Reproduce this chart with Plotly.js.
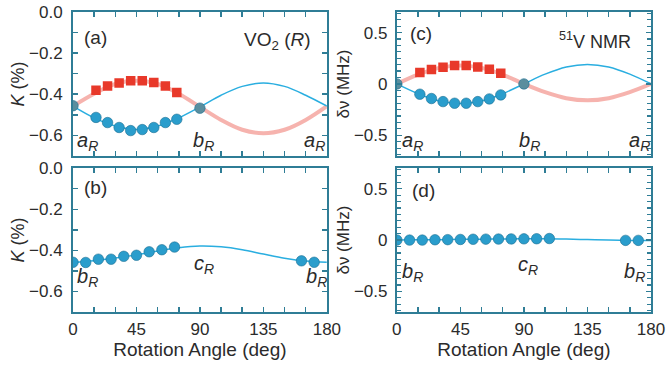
<!DOCTYPE html>
<html>
<head>
<meta charset="utf-8">
<script src="https://cdn.plot.ly/plotly-3.0.1.min.js"></script>
<style>html,body{margin:0;padding:0;background:#fff;}#chart{width:667px;height:366px;}</style>
</head>
<body>
<div id="chart"></div>
<script>
// ---------- data ----------
// measured angles for panels (a) and (c)
const angRed = [16.3, 24.5, 32.7, 40.9, 49.1, 57.3, 65.5, 73.6];
const angBlue = [0, 16.3, 24.5, 32.7, 40.9, 49.1, 57.3, 65.5, 73.6, 90];
// panel (a): Knight shift K (%)
const kRedA = [-0.381, -0.360, -0.345, -0.335, -0.335, -0.343, -0.360, -0.392];
const kBlueA = [-0.456, -0.513, -0.538, -0.562, -0.577, -0.572, -0.562, -0.538, -0.522, -0.468];
// fitted curves, read every 15 deg
const fitAng = [0, 15, 30, 45, 60, 75, 90, 105, 120, 135, 150, 165, 180];
const fitRedA = [-0.458, -0.398, -0.350, -0.335, -0.350, -0.398, -0.462, -0.525, -0.573, -0.590, -0.573, -0.525, -0.458];
const fitBlueA = [-0.458, -0.515, -0.555, -0.572, -0.555, -0.515, -0.462, -0.405, -0.362, -0.345, -0.362, -0.405, -0.458];
// panel (b)
const angB = [0, 9, 18, 27, 36, 45, 54, 63, 72, 162, 171];
const kB = [-0.458, -0.459, -0.443, -0.443, -0.429, -0.424, -0.407, -0.397, -0.384, -0.451, -0.458];
const fitB = [-0.458, -0.450, -0.437, -0.422, -0.403, -0.387, -0.379, -0.383, -0.397, -0.418, -0.438, -0.452, -0.458];
// panel (c): NMR shift (MHz)
const nuRedC = [0.110, 0.140, 0.162, 0.180, 0.180, 0.165, 0.143, 0.104];
const nuBlueC = [0.0, -0.100, -0.142, -0.172, -0.188, -0.188, -0.172, -0.146, -0.107, 0.0];
const fitRedC = [0.0, 0.090, 0.156, 0.180, 0.156, 0.090, 0.0, -0.080, -0.139, -0.160, -0.139, -0.080, 0.0];
const fitBlueC = [0.0, -0.095, -0.165, -0.190, -0.165, -0.095, 0.0, 0.095, 0.165, 0.190, 0.165, 0.095, 0.0];
// panel (d)
const angD = [0, 9, 18, 27, 36, 45, 54, 63, 72, 81, 90, 99, 108, 162, 171];
const nuD = [0.0, 0.0, 0.0, 0.003, 0.004, 0.006, 0.008, 0.009, 0.010, 0.011, 0.012, 0.013, 0.015, -0.003, -0.003];
const fitD = [0.0, 0.002, 0.004, 0.007, 0.009, 0.011, 0.012, 0.013, 0.010, 0.005, 0.0, -0.003, -0.003];
// tick labels
const xTicks = [0, 45, 90, 135, 180];

// ---------- styles ----------
const AX = '#2f7d96';
const TXT = '#2b2b2b';
const RED = '#e8392a';
const REDFIT = 'rgba(244,160,154,0.8)';
const BLUE = '#2a9dcc';
const BLUEFIT = '#2aaee0';
const FONT = 'Liberation Sans, Arial, sans-serif';

function blueColors(a){ return a.map(v => (v === 0 || v === 90) ? '#5a8e9e' : BLUE); }

const traces = [];
function fitTrace(x, y, col, w, xa, ya){
  traces.push({x, y, xaxis: xa, yaxis: ya, type: 'scatter', mode: 'lines',
    line: {color: col, width: w, shape: 'spline', smoothing: 1}, hoverinfo: 'skip', showlegend: false});
}
function redPts(x, y, xa, ya){
  traces.push({x, y, xaxis: xa, yaxis: ya, type: 'scatter', mode: 'markers',
    marker: {symbol: 'square', size: 9.5, color: RED, line: {width: 0}}, showlegend: false});
}
function bluePts(x, y, xa, ya, cols){
  traces.push({x, y, xaxis: xa, yaxis: ya, type: 'scatter', mode: 'markers',
    marker: {symbol: 'circle', size: 10.5, color: cols || BLUE, line: {width: 0.6, color: '#1d6f92'}}, showlegend: false});
}

// (a)
fitTrace(fitAng, fitRedA, REDFIT, 4, 'x', 'y');
fitTrace(fitAng, fitBlueA, BLUEFIT, 1.5, 'x', 'y');
redPts(angRed, kRedA, 'x', 'y');
bluePts(angBlue, kBlueA, 'x', 'y', blueColors(angBlue));
// (b)
fitTrace(fitAng, fitB, BLUEFIT, 1.5, 'x2', 'y2');
bluePts(angB, kB, 'x2', 'y2');
// (c)
fitTrace(fitAng, fitRedC, REDFIT, 4, 'x3', 'y3');
fitTrace(fitAng, fitBlueC, BLUEFIT, 1.5, 'x3', 'y3');
redPts(angRed, nuRedC, 'x3', 'y3');
bluePts(angBlue, nuBlueC, 'x3', 'y3', blueColors(angBlue));
// (d)
fitTrace(fitAng, fitD, BLUEFIT, 1.5, 'x4', 'y4');
bluePts(angD, nuD, 'x4', 'y4');

// ---------- axes ----------
const tickfont = {family: FONT, size: 17, color: TXT};
function xAxis(domain, anchor, labels){
  const a = {domain, anchor, range: [0, 180], tickvals: xTicks, ticktext: xTicks.map(String),
    ticks: 'inside', ticklen: 5, tickwidth: 1.5, tickcolor: AX,
    minor: {dtick: 15, tick0: 0, ticks: 'inside', ticklen: 5, tickwidth: 1.5, tickcolor: AX},
    showline: true, linecolor: AX, linewidth: 2, mirror: 'allticks',
    showgrid: false, zeroline: false, showticklabels: labels, tickfont, ticklabelstandoff: 1, fixedrange: true};
  if (labels) a.title = {text: 'Rotation Angle (deg)', font: {family: FONT, size: 19, color: TXT}, standoff: 1};
  return a;
}
function yAxisK(domain, anchor){
  return {domain, anchor, range: [-0.7, 0], dtick: 0.2, tick0: 0, tickformat: '.1f',
    ticks: 'inside', ticklen: 5, tickwidth: 1.5, tickcolor: AX,
    minor: {dtick: 0.1, tick0: 0, ticks: 'inside', ticklen: 5, tickwidth: 1.5, tickcolor: AX},
    showline: true, linecolor: AX, linewidth: 2, mirror: 'allticks',
    showgrid: false, zeroline: false, tickfont, ticklabelstandoff: 5, fixedrange: true,
    title: {text: '<i>K</i> (%)', font: {family: FONT, size: 18, color: TXT}, standoff: 0}};
}
function yAxisNu(domain, anchor){
  return {domain, anchor, range: [-0.7, 0.7], dtick: 0.5, tick0: 0,
    ticks: 'inside', ticklen: 5, tickwidth: 1.5, tickcolor: AX,
    minor: {dtick: 0.0625, tick0: 0, ticks: 'inside', ticklen: 4, tickwidth: 1.2, tickcolor: AX},
    showline: true, linecolor: AX, linewidth: 2, mirror: 'allticks',
    showgrid: false, zeroline: false, tickfont, ticklabelstandoff: 4, fixedrange: true,
    title: {text: 'δν (MHz)', font: {family: FONT, size: 17, color: TXT}, standoff: 0}};
}

const xL = [0, 0.4392], xR = [0.5603, 1];
const yT = [0.5205, 1], yB = [0, 0.4795];

// ---------- annotations ----------
function lab(text, x, y, xref, yref, size, xanchor, italic){
  return {text, x, y, xref, yref, showarrow: false, xanchor: xanchor || 'center', yanchor: 'middle',
    font: {family: FONT, size: size || 18, color: TXT, style: italic ? 'italic' : 'normal'}};
}
const aR = 'a<sub>R</sub>';
const bR = 'b<sub>R</sub>';
const cR = 'c<sub>R</sub>';
const annotations = [
  lab('(a)', 15.8, -0.125, 'x', 'y', 19),
  lab('VO<sub>2</sub> (<i>R</i>)', 170, -0.14, 'x', 'y', 19, 'right'),
  lab(aR, 10.5, -0.63, 'x', 'y', 20, 'center', true),
  lab(bR, 92.7, -0.63, 'x', 'y', 20, 'center', true),
  lab(aR, 171, -0.63, 'x', 'y', 20, 'center', true),
  lab('(b)', 15.8, -0.095, 'x2', 'y2', 19),
  lab(bR, 10.5, -0.53, 'x2', 'y2', 20, 'center', true),
  lab(cR, 92.7, -0.467, 'x2', 'y2', 20, 'center', true),
  lab(bR, 172.4, -0.53, 'x2', 'y2', 20, 'center', true),
  lab('(c)', 17.2, 0.488, 'x3', 'y3', 19),
  lab('<sup>51</sup>V NMR', 167.3, 0.425, 'x3', 'y3', 18, 'right'),
  lab(aR, 11.2, -0.557, 'x3', 'y3', 20, 'center', true),
  lab(bR, 93.6, -0.557, 'x3', 'y3', 20, 'center', true),
  lab(aR, 172.2, -0.557, 'x3', 'y3', 20, 'center', true),
  lab('(d)', 19, 0.481, 'x4', 'y4', 19),
  lab(bR, 11.2, -0.316, 'x4', 'y4', 20, 'center', true),
  lab(cR, 92.6, -0.243, 'x4', 'y4', 20, 'center', true),
  lab(bR, 168, -0.316, 'x4', 'y4', 20, 'center', true)
];

const layout = {
  width: 667, height: 366,
  margin: {l: 72.7, r: 16, t: 11.7, b: 54, autoexpand: false},
  paper_bgcolor: '#fff', plot_bgcolor: '#fff',
  font: {family: FONT, color: TXT},
  showlegend: false,
  xaxis: xAxis(xL, 'y', false),
  yaxis: yAxisK(yT, 'x'),
  xaxis2: xAxis(xL, 'y2', true),
  yaxis2: yAxisK(yB, 'x2'),
  xaxis3: xAxis(xR, 'y3', false),
  yaxis3: yAxisNu(yT, 'x3'),
  xaxis4: xAxis(xR, 'y4', true),
  yaxis4: yAxisNu(yB, 'x4'),
  annotations
};

Plotly.newPlot('chart', traces, layout, {displayModeBar: false, staticPlot: true});
</script>
</body>
</html>
